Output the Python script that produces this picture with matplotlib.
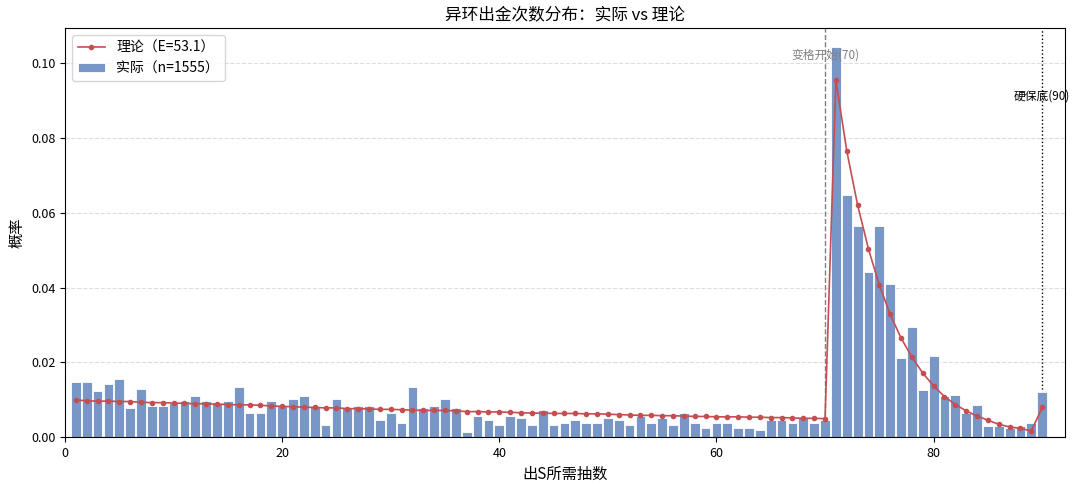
import matplotlib
matplotlib.use("Agg")
import matplotlib.pyplot as plt

plt.rcParams['font.family'] = ['Noto Sans CJK SC', 'DejaVu Sans']

pulls = list(range(1, 91))
actual = [0.0146,0.0146,0.0122,0.0141,0.0154,0.0077,0.0129,0.0083,0.0083,0.0092,
          0.0096,0.0109,0.0096,0.0092,0.0096,0.0135,0.0065,0.0065,0.0096,0.0083,
          0.0103,0.0109,0.0083,0.0032,0.0103,0.0077,0.0083,0.0083,0.0045,0.0065,
          0.0038,0.0135,0.0077,0.0083,0.0103,0.0077,0.0013,0.0056,0.0045,0.0032,
          0.0056,0.0050,0.0032,0.0071,0.0032,0.0038,0.0045,0.0038,0.0038,0.0050,
          0.0045,0.0032,0.0056,0.0038,0.0050,0.0032,0.0065,0.0038,0.0024,0.0038,
          0.0038,0.0024,0.0024,0.0018,0.0045,0.0045,0.0038,0.0050,0.0038,0.0045,
          0.1043,0.0649,0.0565,0.0442,0.0565,0.0410,0.0211,0.0294,0.0127,0.0218,
          0.0110,0.0113,0.0063,0.0087,0.0030,0.0030,0.0024,0.0030,0.0037,0.0121]
theory = [0.0099,0.0097,0.0096,0.0096,0.0095,0.0095,0.0093,0.0092,0.0092,0.0091,
          0.0090,0.0089,0.0089,0.0088,0.0087,0.0086,0.0086,0.0085,0.0083,0.0082,
          0.0081,0.0080,0.0079,0.0078,0.0078,0.0076,0.0076,0.0075,0.0074,0.0074,
          0.0073,0.0072,0.0071,0.0071,0.0071,0.0070,0.0068,0.0068,0.0067,0.0067,
          0.0066,0.0065,0.0064,0.0064,0.0063,0.0063,0.0063,0.0062,0.0062,0.0061,
          0.0060,0.0059,0.0058,0.0058,0.0057,0.0057,0.0056,0.0055,0.0055,0.0054,
          0.0054,0.0054,0.0053,0.0053,0.0052,0.0052,0.0051,0.0050,0.0050,0.0049,
          0.0955,0.0766,0.0621,0.0503,0.0407,0.0328,0.0265,0.0214,0.0171,0.0137,
          0.0108,0.0087,0.0070,0.0056,0.0045,0.0034,0.0027,0.0023,0.0016,0.0079]

fig = plt.figure(figsize=(10.8, 4.9), dpi=100)
ax = fig.add_axes([65/1080, 1-437/490, 1000/1080, 409/490])
ax.bar(pulls, actual, width=0.9, color='#7896c6', edgecolor='white', linewidth=0.6,
       label='实际（n=1555）', zorder=2)
ax.plot(pulls, theory, color='#c44e52', marker='o', markersize=3, linewidth=1.2,
        label='理论（E=53.1）', zorder=3)
ax.axvline(70, color='gray', linestyle='--', linewidth=1, zorder=1)
ax.axvline(90, color='black', linestyle=':', linewidth=1, zorder=1)
ax.text(70, 0.1005, '变格开始(70)', color='gray', fontsize=8.5, ha='center', va='bottom')
ax.text(90, 0.0895, '硬保底(90)', color='black', fontsize=8.5, ha='center', va='bottom')
ax.set_xlim(0, 92.1)
ax.set_ylim(0, 0.1095)
ax.yaxis.grid(True, linestyle='--', color='#dddddd', linewidth=0.8, zorder=0)
ax.set_axisbelow(True)
ax.set_title('异环出金次数分布：实际 vs 理论', fontsize=12)
ax.set_xlabel('出S所需抽数', fontsize=11)
ax.set_ylabel('概率', fontsize=11)
ax.tick_params(labelsize=9)
ax.legend(loc='upper left', fontsize=10)
fig.savefig('out.png', dpi=100)
